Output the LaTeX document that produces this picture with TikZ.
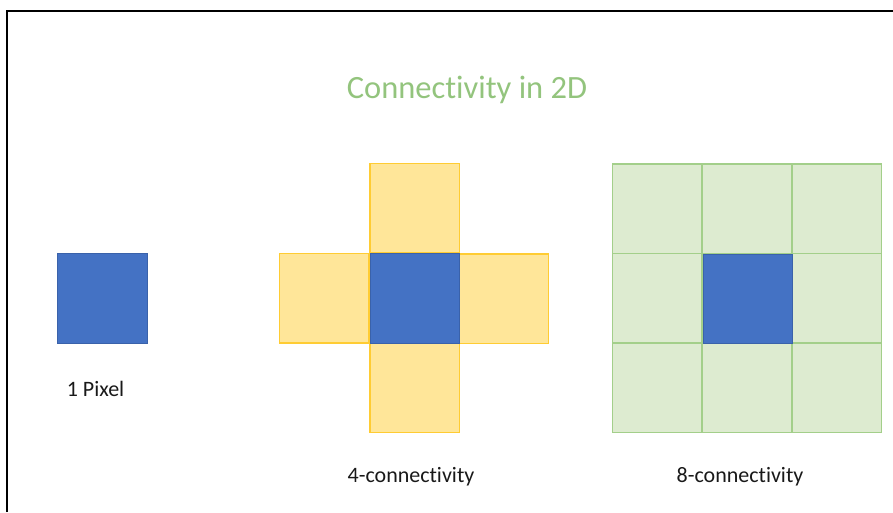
\documentclass[tikz,border=0pt]{standalone}
\usepackage{fontspec}
\setmainfont{Carlito}[Ligatures={NoCommon}]
\definecolor{pixblue}{HTML}{4472C4}
\definecolor{pixblueedge}{HTML}{3A62AA}
\definecolor{yfill}{HTML}{FFE699}
\definecolor{yedge}{HTML}{FFCC33}
\definecolor{gfill}{HTML}{DDEBD0}
\definecolor{gedge}{HTML}{A3CF8A}
\definecolor{titlegreen}{HTML}{93C47D}
\begin{document}
\begin{tikzpicture}[x=1pt,y=-1pt,
  cell/.style={rectangle,anchor=north west,inner sep=0pt,outer sep=0pt,minimum width=89.5pt,minimum height=89.5pt,line width=1.2pt},
  bluecell/.style={cell,fill=pixblue,draw=pixblueedge,line width=0.6pt},
  ycell/.style={cell,fill=yfill,draw=yedge},
  gcell/.style={cell,fill=gfill,draw=gedge},
  lbl/.style={font=\fontsize{22}{26}\selectfont,text=black!90}]
\useasboundingbox (0,0) rectangle (893,512);
\draw[line width=1.5pt] (7,512) -- (7,11) -- (893,11);

\node[font=\fontsize{32.5}{36}\selectfont,text=titlegreen] (title) at (467,90) {Connectivity in 2D};

% 1 pixel
\node[bluecell] (p) at (57.5,253.5) {};
\node[lbl] (plbl) at (95.5,389) {1 Pixel};

% 4-connectivity
\node[ycell] (ytop) at (370,163.5) {};
\node[ycell] (yleft) at (279.5,253.5) {};
\node[ycell] (yright) at (459,254) {};
\node[ycell] (ybot) at (370,343) {};
\node[bluecell] (yc) at (370,253.5) {};
\node[lbl] (ylbl) at (411,477) {4-connectivity};

% 8-connectivity
\foreach \r/\y in {0/164,1/253.5,2/343}{
  \foreach \c/\x in {0/612.5,1/702,2/792}{
    \node[gcell] (g\r\c) at (\x,\y) {};
  }
}
\node[bluecell] (gc) at (703,254) {};
\node[lbl] (glbl) at (740,477) {8-connectivity};
\end{tikzpicture}
\end{document}
